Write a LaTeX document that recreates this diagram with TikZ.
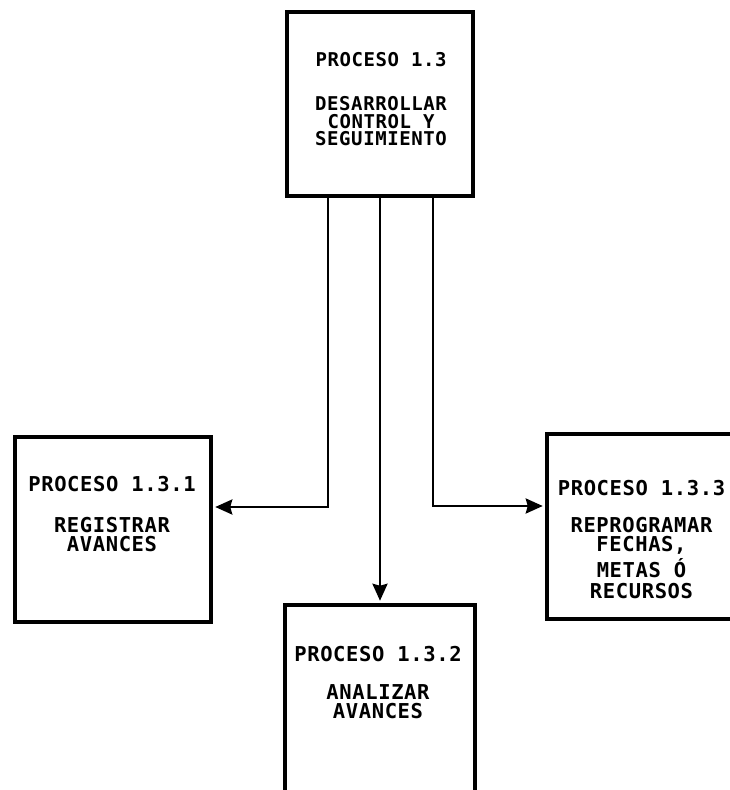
\documentclass[tikz,border=0pt]{standalone}
\usepackage{fontspec}
\newfontfamily\plotfont[LetterSpace=3]{DejaVu Sans Mono}
\usepackage{tikz}
\usetikzlibrary{positioning, arrows.meta}
\tikzset{
  procbox/.style  = {rectangle, draw=black, line width=4.5pt, inner sep=0pt},
  proctext/.style = {anchor=north, align=center, inner sep=0pt,
                     font=\fontsize{20.5}{19}\plotfont\bfseries},
  flow/.style     = {-{Stealth[length=17pt,width=15pt,inset=2pt]},
                     line width=2.5pt, shorten >=2pt},
}

\begin{document}
\begin{tikzpicture}[x=1pt, y=-1pt]
  \useasboundingbox (0,0) rectangle (730,790);
  \clip (0,0) rectangle (730,790);

  % process boxes
  \node[procbox, minimum width=186pt, minimum height=184pt] (p13)  at (380,104)   {};
  \node[procbox, minimum width=196pt, minimum height=185pt] (p131) at (113,529.5) {};
  \node[procbox, minimum width=190pt, minimum height=195pt] (p132) at (380,702.5) {};
  \node[procbox, minimum width=198pt, minimum height=185pt] (p133) at (646,526.5) {};

  % box texts
  \node[proctext, font=\fontsize{19}{17.5}\plotfont\bfseries] (t13) at (381,52)
    {PROCESO 1.3\\[27pt]DESARROLLAR\\CONTROL Y\\SEGUIMIENTO};
  \node[proctext] (t131) at (112,476) {PROCESO 1.3.1\\[22pt]REGISTRAR\\AVANCES};
  \node[proctext] (t132) at (378,646) {PROCESO 1.3.2\\[19pt]ANALIZAR\\AVANCES};
  \node[proctext] (t133) at (641.5,480) {PROCESO 1.3.3\\[18pt]REPROGRAMAR\\FECHAS,\\[3pt]METAS Ó\\[2pt]RECURSOS};

  % flows
  \draw[flow] ([xshift=-52pt]p13.south) |- ([yshift=22.5pt]p131.east);
  \draw[flow] (p13.south) -- (p132.north);
  \draw[flow] ([xshift=53pt]p13.south) |- ([yshift=20.5pt]p133.west);

\end{tikzpicture}
\end{document}
